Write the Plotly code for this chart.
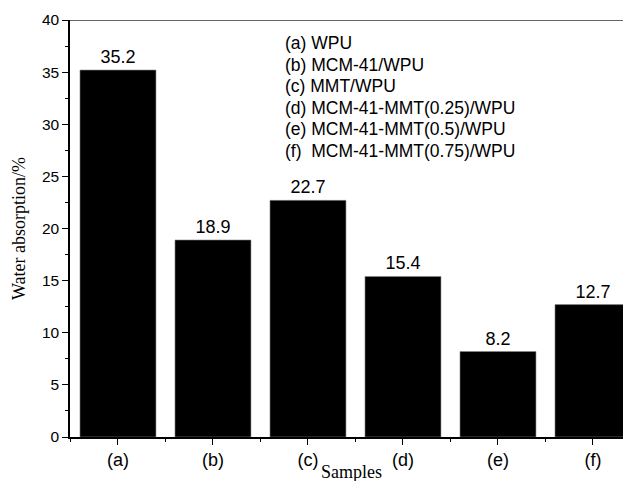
import plotly.graph_objects as go

categories = ["(a)", "(b)", "(c)", "(d)", "(e)", "(f)"]
values = [35.2, 18.9, 22.7, 15.4, 8.2, 12.7]
value_labels = ["35.2", "18.9", "22.7", "15.4", "8.2", "12.7"]
legend_lines = [
    "(a) WPU",
    "(b) MCM-41/WPU",
    "(c) MMT/WPU",
    "(d) MCM-41-MMT(0.25)/WPU",
    "(e) MCM-41-MMT(0.5)/WPU",
    "(f)\u00a0 MCM-41-MMT(0.75)/WPU",
]
y_ticks = [0, 5, 10, 15, 20, 25, 30, 35, 40]
x_title = "Samples"
y_title = "Water absorption/%"

xpos = list(range(len(categories)))

sans = "Liberation Sans, Arial"
serif = "Liberation Serif, Times New Roman"

fig = go.Figure()
fig.add_trace(go.Bar(
    x=xpos, y=values, width=0.8,
    marker=dict(color="black", line=dict(color="#888", width=0.6)),
    text=value_labels, textposition="outside",
    textfont=dict(family=sans, size=18, color="black"),
    cliponaxis=False,
))

PLOT_W = 561
PLOT_H = 417

fig.update_layout(
    width=623, height=473,
    margin=dict(l=62, r=0, t=12, b=44),
    plot_bgcolor="white", paper_bgcolor="white",
    showlegend=False,
    xaxis=dict(
        automargin=False,
        range=[-0.505, -0.505 + PLOT_W / 95],
        tickvals=xpos, ticktext=categories,
        ticks="outside", ticklen=6, tickwidth=1.2, tickcolor="black",
        showline=True, linecolor="black", linewidth=1.5,
        showgrid=False, zeroline=False,
        tickfont=dict(family=sans, size=18, color="black"),
        minor=dict(tick0=0.5, dtick=1, ticks="outside", ticklen=3, tickcolor="black", tickwidth=1.2),
    ),
    yaxis=dict(
        automargin=False,
        range=[0, 40],
        tickvals=y_ticks,
        ticks="outside", ticklen=6, tickwidth=1.2, tickcolor="black",
        showline=True, linecolor="black", linewidth=1.5,
        showgrid=False, zeroline=False,
        tickfont=dict(family=sans, size=15.5, color="black"),
        minor=dict(dtick=2.5, ticks="outside", ticklen=3, tickcolor="black", tickwidth=1.2),
        title=dict(text=y_title, font=dict(family=serif, size=18, color="black"), standoff=12),
    ),
)

# x-axis title, placed low between the (c) and (d) tick labels as in the reference
fig.add_annotation(
    xref="paper", yref="paper", x=(351.5 - 70) / PLOT_W, y=0,
    xanchor="center", yanchor="top", yshift=-23, showarrow=False,
    text=x_title, font=dict(family=serif, size=18, color="black"),
)

# top frame line (the right side of the frame is cropped off in the reference)
fig.add_shape(type="line", xref="paper", yref="y", x0=0, x1=1, y0=40, y1=40,
              line=dict(color="#333", width=1.5))

for i, line in enumerate(legend_lines):
    fig.add_annotation(
        xref="paper", yref="paper", x=(283 - 70) / PLOT_W, y=1 - (23 + 21.6 * i) / PLOT_H,
        xanchor="left", yanchor="middle", showarrow=False,
        text=line, font=dict(family=sans, size=17.5, color="black"),
    )

fig.write_html("out.html")
